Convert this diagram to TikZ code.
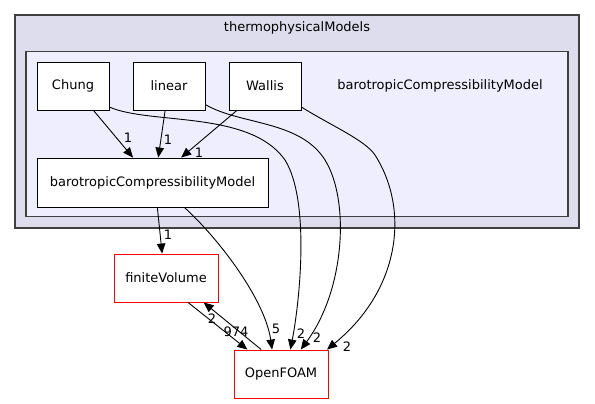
\documentclass[tikz,border=0pt]{standalone}
\usepackage{fontspec}
\setmainfont{DejaVu Sans}
\usetikzlibrary{arrows.meta}

\definecolor{outerfill}{HTML}{DDDDEE}
\definecolor{innerfill}{HTML}{EEEEFF}
\definecolor{clustline}{HTML}{404040}

\tikzset{
    dirbox/.style={draw, fill=white, rectangle, line width=0.9pt, inner sep=0pt, minimum width=72pt, minimum height=48pt},
    extbox/.style={dirbox, draw=red},
    clust/.style={draw=clustline, rectangle, line width=1.3pt, inner sep=0pt},
    dep/.style={line width=0.9pt, -{Triangle[length=10pt, width=8.5pt]}},
    lbl/.style={inner sep=0pt}
}

\begin{document}
\begin{tikzpicture}[x=1pt, y=-1pt, font=\fontsize{13pt}{15pt}\selectfont]
    \useasboundingbox (0, 0) rectangle (595, 404);

    \node[clust, fill=outerfill, minimum width=564pt, minimum height=213pt] at (297, 121.5) (thermo) {};
    \node at (297, 28) (thermoLabel) {thermophysicalModels};
    \node[clust, fill=innerfill, minimum width=542pt, minimum height=165pt] at (297, 134) (baro) {};
    \node at (440, 86) (baroLabel) {barotropicCompressibilityModel};

    \node[dirbox] at (73, 86) (Chung) {Chung};
    \node[dirbox] at (169, 86) (linear) {linear};
    \node[dirbox] at (265, 86) (Wallis) {Wallis};
    \node[dirbox, minimum width=231pt, minimum height=49pt] at (152.5, 182.5) (bcm) {barotropicCompressibilityModel};
    \node[extbox, minimum width=104pt] at (166, 278) (finiteVolume) {finiteVolume};
    \node[extbox, minimum width=94pt] at (281, 374) (OpenFOAM) {OpenFOAM};

    \draw[dep] (Chung.-50) -- (bcm.128.5);
    \draw[dep] (linear.-99.5) -- (bcm.77.3);
    \draw[dep] (Wallis.-139.4) -- (bcm.41.7);
    \draw[dep] (Chung.-30) .. controls (150, 125) and (250, 110) .. (285, 160) .. controls (310, 200) and (300, 300) .. (OpenFOAM.69.4);
    \draw[dep] (linear.-27.8) .. controls (240, 125) and (300, 120) .. (325, 160) .. controls (350, 200) and (345, 290) .. (OpenFOAM.51.6);
    \draw[dep] (Wallis.-30) .. controls (330, 125) and (365, 140) .. (375, 155) .. controls (410, 210) and (400, 290) .. (OpenFOAM.28);
    \draw[dep] (bcm.-79.6) -- (finiteVolume.99.5);
    \draw[dep] (bcm.-38.8) .. controls (220, 240) and (265, 300) .. (OpenFOAM.110.6);
    \draw[dep] (finiteVolume.-48.8) -- (OpenFOAM.144.8);
    \draw[dep] (OpenFOAM.129.8) -- (finiteVolume.-33.7);

    \node[lbl] at (128, 138) (nChung) {1};
    \node[lbl] at (168, 140) (nLinear) {1};
    \node[lbl] at (199, 153) (nWallis) {1};
    \node[lbl] at (168, 235) (nBcmFv) {1};
    \node[lbl] at (276, 329) (nBcmOf) {5};
    \node[lbl] at (301, 334) (nChungOf) {2};
    \node[lbl] at (317, 338) (nLinearOf) {2};
    \node[lbl] at (347, 347) (nWallisOf) {2};
    \node[lbl] at (212, 319) (nFvOf) {2};
    \node[lbl] at (236, 332) (nOfFv) {974};
\end{tikzpicture}
\end{document}
